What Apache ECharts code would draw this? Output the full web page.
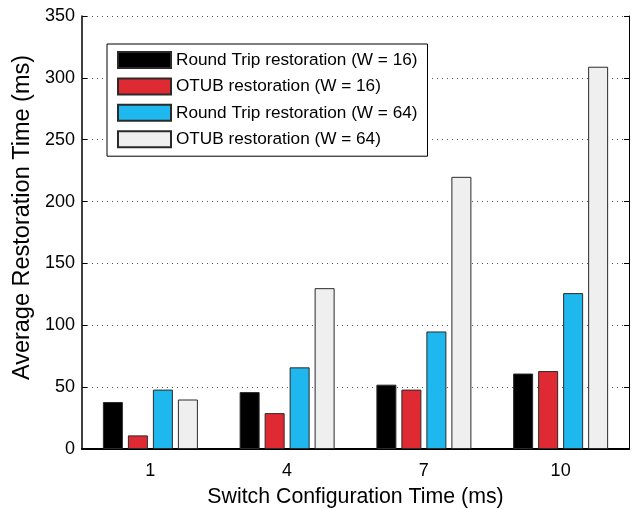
<!DOCTYPE html>
<html>
<head>
<meta charset="utf-8">
<script src="https://cdn.jsdelivr.net/npm/echarts@6/dist/echarts.min.js"></script>
<style>
  html, body { margin: 0; padding: 0; background: #ffffff; }
  #chart { width: 634px; height: 509px; }
</style>
</head>
<body>
<div id="chart"></div>
<script>
// Switch configuration times (ms) on the x axis
const categories = ['1', '4', '7', '10'];

// Average restoration times (ms)
const roundTripW16 = [38, 46, 52, 61];
const otubW16      = [11, 29, 48, 63];
const roundTripW64 = [48, 66, 95, 126];
const otubW64      = [40, 130, 220, 309];

const seriesNames = [
  'Round Trip restoration (W = 16)',
  'OTUB restoration (W = 16)',
  'Round Trip restoration (W = 64)',
  'OTUB restoration (W = 64)'
];
const seriesData = [roundTripW16, otubW16, roundTripW64, otubW64];
const seriesColors = ['#000000', '#e02a33', '#1fb8ee', '#efefef'];

const FONT = '"Liberation Sans", Arial, Helvetica, sans-serif';

const chart = echarts.init(document.getElementById('chart'), null, { renderer: 'canvas' });

const series = seriesNames.map((name, i) => ({
  name: name,
  type: 'bar',
  data: seriesData[i],
  xAxisIndex: 0,
  yAxisIndex: 0,
  barWidth: 20,
  barGap: '25%',
  itemStyle: {
    color: seriesColors[i],
    borderColor: '#2a2a2a',
    borderWidth: 1
  },
  emphasis: { disabled: true },
  animation: false
}));

chart.setOption({
  animation: false,
  backgroundColor: '#ffffff',
  textStyle: { fontFamily: FONT, color: '#000' },
  grid: {
    left: 82, right: 5, top: 16, bottom: 60,
    containLabel: false,
    outerBoundsMode: 'none'
  },
  legend: {
    orient: 'vertical',
    left: 107,
    top: 44,
    padding: [7, 10, 8, 10],
    itemWidth: 53,
    itemHeight: 16,
    itemGap: 8.4,
    backgroundColor: '#ffffff',
    borderColor: '#000000',
    borderWidth: 1,
    borderRadius: 0,
    icon: 'rect',
    selectedMode: false,
    textStyle: { fontFamily: FONT, fontSize: 17.2, color: '#000' },
    data: seriesNames
  },
  xAxis: [
    {
      type: 'category',
      data: categories,
      position: 'bottom',
      name: 'Switch Configuration Time (ms)',
      nameLocation: 'middle',
      nameGap: 38,
      nameTextStyle: { fontFamily: FONT, fontSize: 21.3, color: '#000' },
      axisLine: { lineStyle: { color: '#000', width: 2 } },
      axisTick: { inside: true, alignWithLabel: true, length: 5, lineStyle: { color: '#333' } },
      axisLabel: { fontFamily: FONT, fontSize: 18, color: '#000', margin: 13 },
      splitLine: { show: false }
    },
    {
      type: 'category',
      data: categories,
      position: 'top',
      axisLine: { lineStyle: { color: '#000', width: 1 } },
      axisTick: { inside: true, alignWithLabel: true, length: 5, lineStyle: { color: '#333' } },
      axisLabel: { show: false },
      splitLine: { show: false }
    }
  ],
  yAxis: [
    {
      type: 'value',
      min: 0,
      max: 350,
      interval: 50,
      position: 'left',
      name: 'Average Restoration Time (ms)',
      nameLocation: 'middle',
      nameGap: 46,
      nameTextStyle: {
        fontFamily: FONT, fontSize: 23.5, color: '#000',
        padding: [0, 0, 0, 30]
      },
      axisLine: { show: true, lineStyle: { color: '#000', width: 1.5 } },
      axisTick: { show: true, inside: true, length: 5, lineStyle: { color: '#000' } },
      axisLabel: { fontFamily: FONT, fontSize: 18, color: '#000', margin: 7 },
      splitLine: {
        show: true,
        lineStyle: { color: '#555', width: 1, type: [1, 4] }
      }
    },
    {
      type: 'value',
      min: 0,
      max: 350,
      interval: 50,
      position: 'right',
      axisLine: { show: true, lineStyle: { color: '#000', width: 1 } },
      axisTick: { show: true, inside: true, length: 5, lineStyle: { color: '#000' } },
      axisLabel: { show: false },
      splitLine: { show: false }
    }
  ],
  series: series
});
</script>
</body>
</html>
